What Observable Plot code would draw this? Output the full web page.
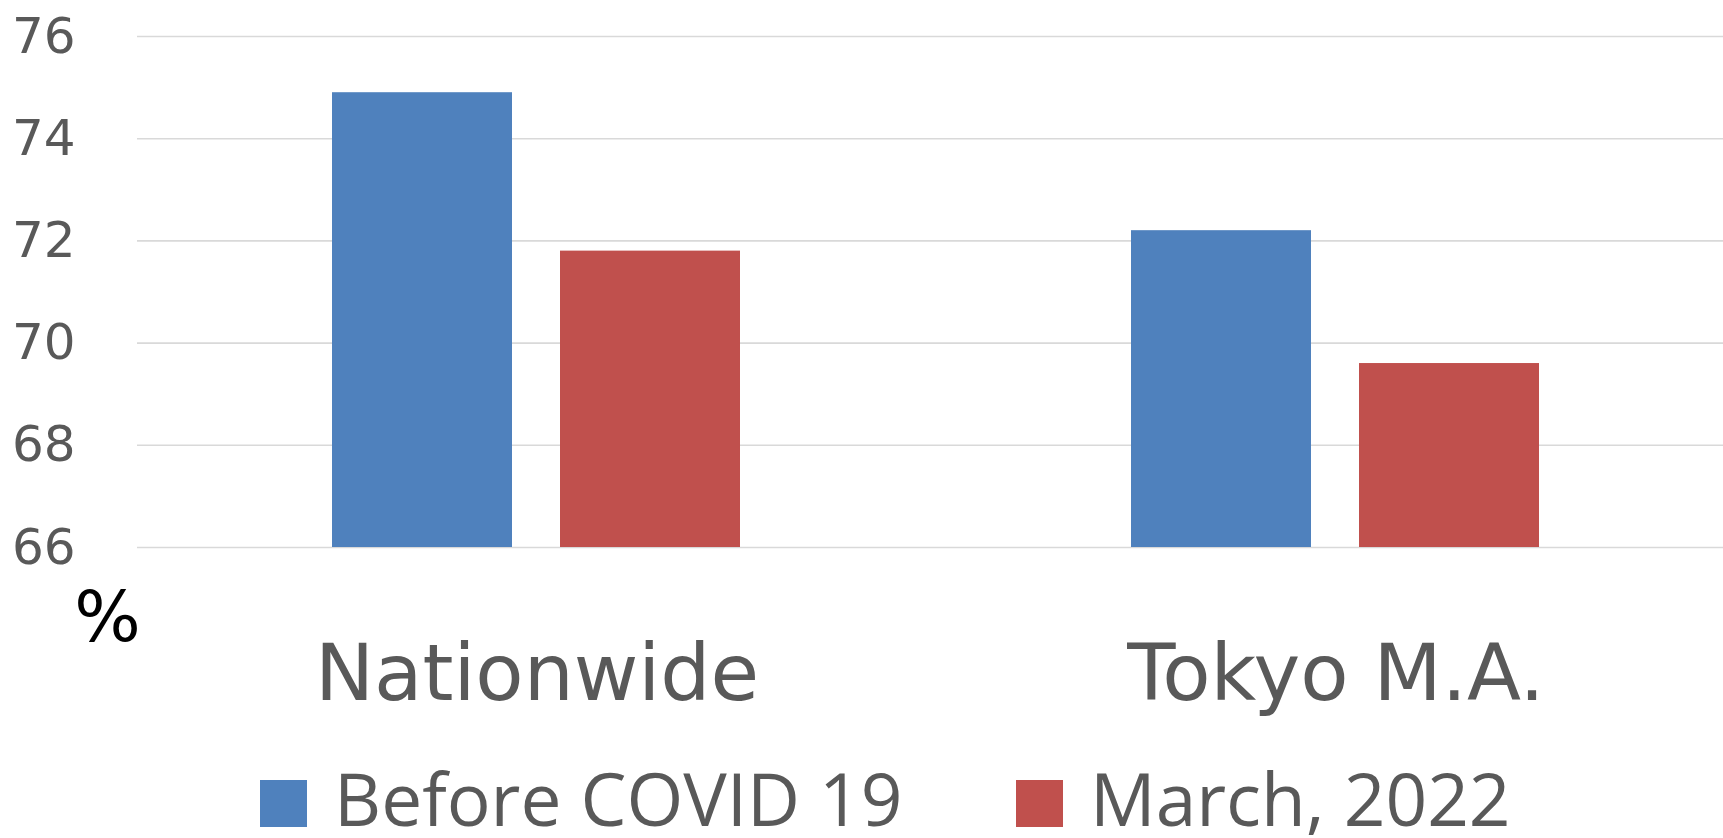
<!DOCTYPE html>
<html>
<head>
<meta charset="utf-8">
<script src="https://cdn.jsdelivr.net/npm/d3@7"></script>
<script src="https://cdn.jsdelivr.net/npm/@observablehq/plot@0.6"></script>
<style>
  html, body { margin: 0; padding: 0; background: #fff; }
  #wrap { width: 1723px; height: 838px; position: relative; overflow: hidden; }
  #legend { position: relative; height: 68px; font-family: "Open Sans", sans-serif; font-size: 73px; color: #595959; }
  .sw { position: absolute; top: 10px; width: 47px; height: 47px; }
  .lt { position: absolute; top: -6px; line-height: 68px; white-space: nowrap; }
</style>
</head>
<body>
<div id="wrap"></div>
<script>
const categories = ["Nationwide", "Tokyo M.A."];
const seriesNames = ["Before COVID 19", "March, 2022"];
const beforeCovid = [74.9, 72.2];
const march2022 = [71.8, 69.6];
const seriesColors = ["#4F81BD", "#C0504D"];
const yTicks = [66, 68, 70, 72, 74, 76];
const unitLabel = "%";

const seriesValues = [beforeCovid, march2022];
const rows = [];
categories.forEach((c, i) => {
  seriesNames.forEach((s, j) => rows.push({category: c, series: s, value: seriesValues[j][i]}));
});
const baseline = yTicks[0];

const chart = Plot.plot({
  width: 1723,
  height: 770,
  marginLeft: 137,
  marginRight: -12,
  marginTop: 36,
  marginBottom: 223,
  style: {fontFamily: "DejaVu Sans", color: "#595959", background: "white", overflow: "hidden"},
  fx: {domain: categories, padding: 0, axis: null, label: null},
  x: {domain: seriesNames, paddingInner: 0.21, paddingOuter: 0.855, axis: null, label: null},
  y: {domain: [yTicks[0], yTicks[yTicks.length - 1]], axis: null, label: null},
  color: {domain: seriesNames, range: seriesColors},
  marks: [
    Plot.gridY(yTicks, {stroke: "#d9d9d9", strokeOpacity: 1, strokeWidth: 1.6}),
    Plot.barY(rows, {fx: "category", x: "series", y1: baseline, y2: "value", fill: "series"}),
    Plot.axisY(yTicks, {anchor: "left", label: null, tickSize: 0, tickPadding: 62, fontSize: 50, fill: "#595959", tickFormat: d => String(d)}),
    Plot.text(categories, {fx: d => d, text: d => d, frameAnchor: "bottom", lineAnchor: "bottom", dy: 152, fontSize: 79, fill: "#595959"}),
    Plot.text([{label: unitLabel, category: categories[0]}], {fx: "category", text: "label", frameAnchor: "bottom-left", textAnchor: "middle", lineAnchor: "middle", dx: -30, dy: 71, fontSize: 70, fill: "black"})
  ]
});

const wrap = document.getElementById("wrap");
wrap.appendChild(chart);

const legend = document.createElement("div");
legend.id = "legend";
const legendLefts = [260, 1016];
seriesNames.forEach((s, i) => {
  const sw = document.createElement("div");
  sw.className = "sw";
  sw.style.left = legendLefts[i] + "px";
  sw.style.background = seriesColors[i];
  const t = document.createElement("div");
  t.className = "lt";
  t.style.left = (legendLefts[i] + 74) + "px";
  t.textContent = s;
  legend.appendChild(sw);
  legend.appendChild(t);
});
wrap.appendChild(legend);
</script>
</body>
</html>
